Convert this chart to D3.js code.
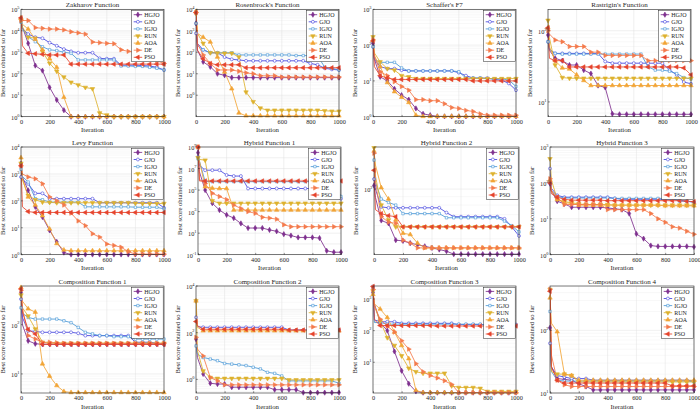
<!DOCTYPE html>
<html><head><meta charset="utf-8">
<script src="https://cdn.jsdelivr.net/npm/d3@7"></script>
<style>body{margin:0;background:#fff}svg{display:block}text{font-family:"Liberation Serif","Times New Roman",serif;fill:#262626}</style>
</head><body><svg id="c" width="700" height="411"></svg>
<script>
const iterations = [0,10,50,100,150,200,250,300,350,400,450,500,550,600,650,700,750,800,850,900,950,1000];
const algorithms = ["HGJO","GJO","IGJO","RUN","AOA","DE","PSO"];
const xTicks = [0,200,400,600,800,1000];

const zakharov = [
 [3.8e4,1.5e4,2600,240,140,23,6,2,1,1,1,1,1,1,1,1,1,1,1,1,1,1],
 [3.8e4,1.3e4,7000,5000,4500,2800,2000,1400,1100,950,950,950,520,500,500,250,250,250,240,230,200,150],
 [2.5e4,1.2e4,5300,3100,1800,1300,1200,1000,900,440,440,440,440,440,440,230,230,220,220,200,180,150],
 [3e4,1.5e4,5000,4500,1100,310,130,70,40,30,23,20,1.5,1.2,1,1,1,1,1,1,1,1],
 [4e4,2e4,1.2e4,4000,1300,500,200,8,1,1,1,1,1,1,1,1,1,1,1,1,1,1],
 [3e4,3e4,3e4,1.4e4,1.3e4,1.2e4,1.2e4,1.1e4,9000,8000,7000,3000,2800,2600,2500,1300,1100,1000,900,800,400,300],
 [4e4,2000,900,850,800,750,750,750,280,280,280,280,280,280,280,280,280,280,280,280,280,280]
];
const rosenbrock = [
 [2200,125,36,21,10,8.5,6.6,6.6,6.6,6.6,6.6,6.6,6.6,6.6,6.6,6.6,6.6,6.6,6.6,6.6,6.6,6.6],
 [760,260,130,95,95,60,47,44,40,40,40,40,40,40,40,40,40,30,26,18,16,15],
 [2200,200,130,95,95,95,95,75,75,75,75,75,75,75,75,70,70,70,70,20,18,15],
 [6500,760,260,95,92,90,90,60,1.4,0.5,0.25,0.2,0.2,0.2,0.2,0.2,0.2,0.2,0.2,0.19,0.18,0.18],
 [8000,760,500,300,60,12,2,0.15,0.11,0.11,0.11,0.11,0.11,0.11,0.11,0.11,0.11,0.11,0.11,0.11,0.11,0.11],
 [7000,260,75,30,15,15,15,13,11,10,8,8,8,7,7,7,7,7,7,7,7,7],
 [7000,125,50,30,26,26,26,26,19,19,19,19,19,19,19,19,19,19,19,19,19,19]
];
const schaffer = [
 [112,40,13,10,6,4,3,1.7,1.2,1.1,1.02,1.02,1.02,1.02,1.02,1.02,1.02,1.02,1.02,1.02,1.02,1.02],
 [90,40,25,22,22,20,19,19,19,19,19,19,19,17,14,12,12,12,11,10.5,8.5,5.5],
 [90,40,33,33,33,23,19,19,19,19,19,19,19,18,12,12,12,11.5,11.5,11.5,10.5,7],
 [170,60,34,22,20,14,13,11.6,11.6,11.6,11.6,11.6,11.6,11.6,11.6,11.6,11.6,11.6,11.6,11.6,11.6,11.6],
 [140,50,25,9,5,3.5,2.5,1.1,1.02,1.02,1.02,1.02,1.02,1.02,1.02,1.02,1.02,1.02,1.02,1.02,1.02,1.02],
 [140,50,18,14,9.5,7,5.5,3,3,2.8,2.8,2.3,1.8,1.7,1.5,1.4,1.2,1.1,1.1,1.1,1.1,1.1],
 [130,25,14,12,11,11,11,11,11,11,11,11,11,11,11,10,10,10,10,10,10,10]
];
const rastrigin = [
 [87,53,41,38,33,33,28,25,17,16,6.8,6.7,6.7,6.7,6.7,6.7,6.7,6.7,6.7,6.7,6.7,6.7],
 [70,55,48,48,48,48,48,48,48,37,35,35,35,35,35,35,35,35,28,24,19,18],
 [70,55,48,47,47,47,47,47,47,47,47,47,47,47,47,31,28,28,27,25,22,21],
 [140,80,33,22,21.5,21.5,21.5,21.5,21.5,21.5,21.5,21.5,21.5,21.5,21.5,21.5,21.5,21.5,21.5,21.5,21.5,21.5],
 [110,60,38,30,29,24,20,17,17,17,17,17,17,17,17,17,17,17,17,17,17,17],
 [100,90,74,70,60,60,60,50,50,45,45,45,45,45,45,38,38,38,38,38,38,38],
 [110,41,38,38,31,31,31,31,31,31,31,31,31,31,31,31,31,31,31,31,30,24]
];
const levy = [
 [2400,770,245,60,25,8,3,1.2,1.02,1.02,1.02,1.02,1.02,1.02,1.02,1.02,1.02,1.02,1.02,1.02,1.02,1.02],
 [770,600,430,190,190,120,120,120,120,120,120,120,85,85,85,85,85,85,85,85,85,55],
 [1500,800,500,120,110,90,90,90,90,90,60,60,60,60,60,60,60,58,58,58,58,50],
 [2500,600,160,110,90,88,85,85,85,85,85,85,85,85,85,85,85,82,80,80,80,80],
 [4000,700,140,70,28,9,2.6,1.5,1.4,1.4,1.4,1.4,1.4,1.4,1.4,1.4,1.4,1.4,1.4,1.4,1.4,1.4],
 [2000,1000,770,660,430,140,100,70,35,18,12,6,4.5,2.5,2.2,1.9,1.3,1.05,1.05,1.05,1.05,1.05],
 [2000,60,40,37,37,37,37,37,37,37,37,37,37,37,37,37,37,37,37,37,37,37]
];
const hybrid1 = [
 [3e8,5e6,1e5,6000,1400,500,250,80,30,30,30,20,15,8,6,4,4,4,3.5,0.23,0.17,0.17],
 [1.2e8,2e7,7e6,7e6,7e6,2.5e6,2e6,2e6,1.4e5,1.4e5,1.4e5,1.4e5,1.4e5,1.4e5,1.4e5,1.4e5,1.4e5,1.4e5,1.4e5,1.4e5,1.4e5,1.6e4],
 [8e7,5e7,6e5,6e5,6e5,6e5,6e5,6e5,6e5,6e5,6e5,6e5,6e5,6e5,6e5,6e5,6e5,6e5,6e5,6e5,6e5,2.5e4],
 [1e8,7e7,6e7,1e4,6000,6000,6000,6000,6000,6000,6000,6000,6000,6000,6000,6000,6000,6000,6000,6000,6000,6000],
 [1e9,5e7,2e5,1.5e5,1.4e5,1.4e5,1400,1400,1400,1400,1400,1400,1400,1400,1400,1400,1400,1400,1400,1400,1400,1400],
 [1e9,1e6,4e5,5e4,2.5e4,1.3e4,4000,2000,1000,700,300,250,200,60,40,40,40,40,40,40,40,40],
 [1e9,7e5,7e5,7e5,7e5,7e5,7e5,7e5,7e5,7e5,7e5,7e5,7e5,7e5,7e5,7e5,7e5,7e5,7e5,7e5,7e5,7e5]
];
const hybrid2 = [
 [105,89,64.5,62,49,48.5,47,46,45,44,43,42,40.3,40.3,40.3,40.3,40.3,40.3,40.3,40.3,40.3,40.3],
 [115,100,78,77,77,77,77,77,77,77,77,72,68,68,68,68,68,68,68,66,59,52],
 [150,110,87,83,80,71,71,71,71,71,71,67,67,67,67,67,67,67,67,64,60,55],
 [178,120,80,65,59,59,59,59,59,59,59,59,59,59,59,59,59,59,59,59,59,59],
 [170,140,102,87,65,54,53,47,44,44,44,44,44,44,44,44,44,44,44,44,44,44],
 [165,110,68,63,62,49,47,44,44,44,44,44,44,44,44,44,44,44,44,44,44,44],
 [130,75,71,69,68,59,59,59,59,59,59,59,59,59,59,59,59,59,59,59,59,59]
];
const hybrid3 = [
 [95,60,31,26,21,21,21,21,21,20,19,18,14,3.8,2.8,1.8,1.7,1.7,1.7,1.7,1.7,1.65],
 [250,70,45,40,40,40,40,40,40,40,37,35,35,35,35,35,35,35,35,33,31,29],
 [110,60,42,38,38,38,38,38,38,38,37,37,37,37,37,37,37,37,37,31,31,29],
 [470,120,35,30,28,26,25,25,25,25,24,24,24,24,24,24,24,24,24,24,24,24],
 [120,60,35,28,27,24,24,24,24,24,24,24,24,24,24,24,24,23,23,23,23,23],
 [130,60,40,25,25,25,25,25,25,18,18,18,18,18,18,14,10,8,6,5.5,4.5,3.7],
 [100,50,40,35,33,33,33,33,33,32,32,32,32,32,32,32,32,32,32,32,31,30]
];
const composition1 = [
 [450,100,47,41,40,40,40,40,40,40,40,40,40,40,40,40,40,40,40,40,40,40],
 [330,140,75,73,70,70,70,70,70,67,60,60,60,60,60,60,60,44,44,44,42,40],
 [220,170,140,130,130,130,130,120,110,88,70,65,60,60,57,57,57,51,51,51,51,51],
 [400,220,150,82,44,42,42,42,42,42,42,42,42,42,42,42,42,42,42,42,42,42],
 [570,300,210,180,16,9,5.8,4.4,4.2,4.2,4.2,4.2,4.2,4.2,4.2,4.2,4.2,4.2,4.2,4.2,4.2,4.2],
 [500,220,60,51,44,44,43,42,42,42,42,42,42,42,42,42,42,42,42,42,42,42],
 [530,180,80,65,40,40,40,40,40,40,40,40,40,40,40,40,40,40,40,40,40,40]
];
const composition2 = [
 [53,8.7,1.7,0.68,0.63,0.63,0.46,0.46,0.46,0.46,0.46,0.46,0.36,0.36,0.36,0.36,0.27,0.27,0.27,0.27,0.27,0.27],
 [450,180,170,170,170,170,170,170,170,170,170,170,170,170,130,130,130,130,130,130,130,130],
 [27,12,8.7,7.4,6.3,4.8,4.5,4.2,3.9,3.3,2.8,2.0,1.8,1.4,0.86,0.86,0.86,0.86,0.86,0.86,0.86,0.68],
 [2300,17,2.3,1.2,1.1,1.1,1.1,1.1,1.1,1.1,1.1,1.1,1.1,1.1,0.95,0.95,0.95,0.95,0.95,0.95,0.95,0.95],
 [2300,170,120,120,120,120,120,120,120,120,120,120,120,120,120,120,120,120,120,120,120,120],
 [63,20,10,1.2,0.86,0.58,0.58,0.58,0.58,0.58,0.58,0.58,0.58,0.58,0.58,0.58,0.58,0.58,0.58,0.58,0.58,0.58],
 [300,200,140,140,140,140,140,140,140,140,140,140,140,140,130,130,130,130,130,130,130,130]
];
const composition3 = [
 [1600,700,180,100,22,5.4,2.1,1.2,1.1,1.1,1.1,1.1,1.1,1.1,1.1,1.1,1.1,1.1,1.1,1.1,1.1,1.1],
 [2300,220,190,190,190,170,170,170,170,170,170,170,170,155,155,155,155,155,155,155,155,155],
 [2500,180,180,160,160,160,160,160,160,160,160,160,160,160,160,160,160,145,145,145,145,145],
 [1800,600,200,60,34,16,6.5,5,4.5,4.5,4.5,4.5,1.8,1.6,1.6,1.6,1.5,1.2,1.2,1.2,1.2,1.2],
 [1400,700,480,260,90,34,13,1.3,1.1,1.1,1.1,1.1,1.1,1.1,1.1,1.1,1.1,1.1,1.1,1.1,1.1,1.1],
 [2000,600,230,140,90,48,26,9,5,3.8,3.2,2.6,2,1.1,1.1,1.1,1.1,1.1,1.1,1.1,1.1,1.1],
 [2500,220,145,145,145,145,145,145,145,145,140,140,140,140,140,140,140,140,140,140,140,140]
];
const composition4 = [
 [110,26,17,16.5,16,14,12.7,11.2,11.2,11.2,11.2,11.2,11.2,11.2,11.2,11.2,11.2,11.2,11.2,11.2,11.2,11.2],
 [62,26,19,18,17,17,17,16,16,16,16,16,16,16,16,16,16,16,16,16,16,15.5],
 [200,22,16,15.5,15.5,15.5,15.5,15.5,15.5,15.5,15.5,15.5,15.5,15.5,15.5,15.5,15.5,15.5,15.5,15.5,15.5,15],
 [450,22,20,20,19,15,15,15,15,15,15,15,15,15,15,15,15,15,15,15,15,15],
 [330,130,95,20,19,16,16,16,16,16,16,16,16,16,16,16,16,16,16,16,16,16],
 [450,40,16,13.5,12.7,12.7,12.7,12.7,12.7,12.7,12.7,12.7,12.7,12.7,12.7,12.7,12.7,12.7,12.7,12.7,12.7,12.7],
 [420,26,16,14.4,14.4,14.4,14.4,14.4,14.4,14.4,14.4,14.4,14.4,14.4,14.4,14.4,14.4,14.4,13,13,13,13]
];

const titles = ["Zakharov Function","Rosenbrock's Function","Schaffer's F7","Rastrigin's Function",
  "Levy Function","Hybrid Function 1","Hybrid Function 2","Hybrid Function 3",
  "Composition Function 1","Composition Function 2","Composition Function 3","Composition Function 4"];
const yTickValues = [
  [1,10,100,1e3,1e4,1e5],[1,10,100,1e3,1e4],[1,10,100,1000],[10,100],
  [1,10,100,1e3,1e4],[0.1,10,1e3,1e5,1e7,1e9],[100],[1,10,100,1000],
  [10,100],[1,100,1e4],[10,100,1000],[10,100]
];
const datasets = [zakharov,rosenbrock,schaffer,rastrigin,levy,hybrid1,hybrid2,hybrid3,composition1,composition2,composition3,composition4];

// ---- styling / layout ----
const yDomains = [[1,1e5],[0.1,1e4],[1,1000],[6.2,200],[1,1e4],[0.1,1e9],[40,180],[1,1000],[4.1,610],[0.26,1e4],[1.07,2570],[10,510]];
const colors = ["#7E2F8E","#4343DE","#4A98D6","#DDB12E","#F2A435","#F47A4C","#E6432C"];
const rows = [{t:9.3,b:116.7},{t:147,b:254.7},{t:286,b:393}];
const cols = [[21,164],[196,339],[373,516],[548,691],[21,164],[198,341],[374,519],[550,694],[21,164],[196,339],[373,516],[550,694]];
const symbols = [
  {type:d3.symbolDiamond,size:8,rot:0,fill:true},
  {type:d3.symbolCircle,size:7,rot:0,fill:false},
  {type:d3.symbolSquare,size:6,rot:0,fill:false},
  {type:d3.symbolTriangle,size:8.5,rot:180,fill:true},
  {type:d3.symbolTriangle,size:8.5,rot:0,fill:true},
  {type:d3.symbolTriangle,size:8.5,rot:90,fill:true},
  {type:d3.symbolTriangle,size:8.5,rot:-90,fill:true}
];

const svg = d3.select("#c");
const defs = svg.append("defs");

function marker(g, k, cx, cy){
  const s = symbols[k];
  g.append("path").attr("d", d3.symbol().type(s.type).size(s.size)())
   .attr("transform", `translate(${cx},${cy}) rotate(${s.rot})`)
   .attr("fill", s.fill ? colors[k] : "#fff")
   .attr("stroke", colors[k]).attr("stroke-width", 0.6);
}

datasets.forEach((data, idx) => {
  const {t,b} = rows[Math.floor(idx/4)];
  const [l,r] = cols[idx];
  const x = d3.scaleLinear().domain([0,1000]).range([l,r]);
  const y = d3.scaleLog().domain(yDomains[idx]).range([b,t]);
  const g = svg.append("g");
  const cid = "clip"+idx;
  defs.append("clipPath").attr("id",cid).append("rect").attr("x",l).attr("y",t-0.5).attr("width",r-l).attr("height",b-t+1);

  // minor grid
  const [d0,d1] = yDomains[idx];
  const decades = Math.log10(d1/d0);
  if (decades < 6) {
    for (let n=Math.floor(Math.log10(d0)); n<=Math.ceil(Math.log10(d1)); n++) {
      for (let k=2;k<=9;k++){ const v=k*Math.pow(10,n); if(v>d0&&v<d1)
        g.append("line").attr("x1",l).attr("x2",r).attr("y1",y(v)).attr("y2",y(v)).attr("stroke","#f0f0f0").attr("stroke-width",0.5);}
    }
  }
  // major grid
  xTicks.forEach(v => g.append("line").attr("x1",x(v)).attr("x2",x(v)).attr("y1",t).attr("y2",b).attr("stroke","#e0e0e0").attr("stroke-width",0.5));
  const yt = yTickValues[idx];
  const majors = [];
  for (let n=Math.ceil(Math.log10(d0)); n<=Math.floor(Math.log10(d1)); n++) majors.push(Math.pow(10,n));
  majors.forEach(v => g.append("line").attr("x1",l).attr("x2",r).attr("y1",y(v)).attr("y2",y(v)).attr("stroke","#e0e0e0").attr("stroke-width",0.5));

  // lines
  const line = d3.line().x((d,i)=>x(iterations[i])).y(d=>y(d));
  const lg = g.append("g").attr("clip-path",`url(#${cid})`);
  data.forEach((s,k) => {
    lg.append("path").attr("d", line(s)).attr("fill","none").attr("stroke",colors[k]).attr("stroke-width",0.85);
  });
  data.forEach((s,k) => {
    s.forEach((v,i) => { if (iterations[i]%50===0) marker(g,k,x(iterations[i]),y(v)); });
  });

  // box
  g.append("rect").attr("x",l).attr("y",t).attr("width",r-l).attr("height",b-t).attr("fill","none").attr("stroke","#262626").attr("stroke-width",0.6);

  // x axis
  const xa = g.append("g").attr("transform",`translate(0,${b})`).call(d3.axisBottom(x).tickValues(xTicks).tickFormat(d3.format("d")).tickSizeInner(-1.8).tickSizeOuter(0).tickPadding(3));
  xa.select(".domain").remove();
  xa.selectAll("line").attr("stroke","#262626").attr("stroke-width",0.5);
  xa.selectAll("text").attr("font-size",6.3).attr("font-family","Liberation Serif").attr("fill","#262626");
  // y ticks
  yt.forEach(v => {
    g.append("line").attr("x1",l).attr("x2",l+1.8).attr("y1",y(v)).attr("y2",y(v)).attr("stroke","#262626").attr("stroke-width",0.5);
    const tx = g.append("text").attr("x",l-1.5).attr("y",y(v)+3).attr("text-anchor","end").attr("font-size",6.3);
    tx.append("tspan").text("10");
    tx.append("tspan").attr("dy",-3.2).attr("font-size",4.4).text(Math.round(Math.log10(v)));
  });

  // labels
  g.append("text").attr("x",(l+r)/2).attr("y",t-2.3).attr("text-anchor","middle").attr("font-size",7).attr("fill","#333").text(titles[idx]);
  g.append("text").attr("x",(l+r)/2).attr("y",b+15.5).attr("text-anchor","middle").attr("font-size",6.8).text("Iteration");
  g.append("text").attr("transform",`translate(${l-16.5},${(t+b)/2}) rotate(-90)`).attr("text-anchor","middle").attr("font-size",6.6).text("Best score obtained so far");

  // legend
  const lw = 31.5, lh = 51, lx = r - lw - 0.8, ly = t + 1.4;
  const leg = g.append("g");
  leg.append("rect").attr("x",lx).attr("y",ly).attr("width",lw).attr("height",lh).attr("fill","#fff").attr("stroke","#262626").attr("stroke-width",0.5);
  algorithms.forEach((name,k) => {
    const yy = ly + 4 + k*7.1;
    leg.append("line").attr("x1",lx+2).attr("x2",lx+10.5).attr("y1",yy).attr("y2",yy).attr("stroke",colors[k]).attr("stroke-width",0.85);
    marker(leg,k,lx+6.2,yy);
    leg.append("text").attr("x",lx+12.5).attr("y",yy+2.1).attr("font-size",6).text(name);
  });
});
</script></body></html>
